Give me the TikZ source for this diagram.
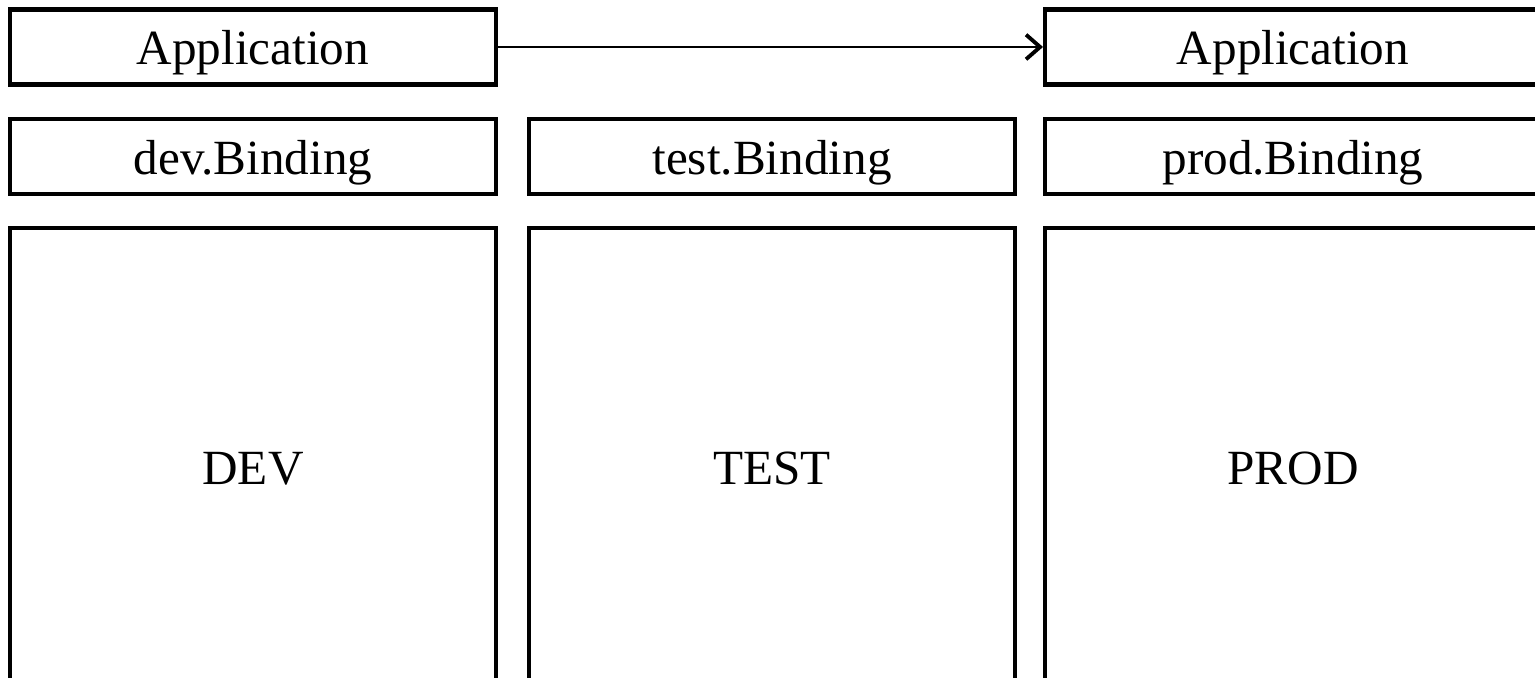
\documentclass[tikz,border=0pt]{standalone}
\usepackage{fontspec}
\setmainfont{Liberation Serif}
\usetikzlibrary{arrows.meta,positioning}

\begin{document}
\begin{tikzpicture}[x=0.02cm, y=-0.02cm, >={Straight Barb[length=8pt,width=14pt,line width=2.2pt]},
  box/.style={draw, line width=2.3pt, minimum width=9.72cm, inner sep=0pt,
    text height=20pt, text depth=0pt, font=\fontsize{28}{34}\selectfont},
  bar/.style={box, minimum height=1.5cm},
  envbox/.style={box, minimum height=9.56cm},
  wide/.style={minimum width=9.92cm}]
  \useasboundingbox (0,0) rectangle (1535,678);
  \clip (0,0) rectangle (1535,678);
  % top row
  \node[bar] (appDev)  at (253,47)  {Application};
  \node[bar, wide] (appProd) at (1293,47) {Application};
  % bindings
  \node[bar] (devBind)  at (253,156.5)  {dev.Binding};
  \node[bar] (testBind) at (772,156.5)  {test.Binding};
  \node[bar, wide] (prodBind) at (1293,156.5) {prod.Binding};
  % environments
  \node[envbox] (dev)  at (253,467)  {DEV};
  \node[envbox] (test) at (772,467)  {TEST};
  \node[envbox, wide] (prod) at (1293,467) {PROD};
  \draw[->, line width=1.1pt] (appDev) -- (appProd);
\end{tikzpicture}
\end{document}
